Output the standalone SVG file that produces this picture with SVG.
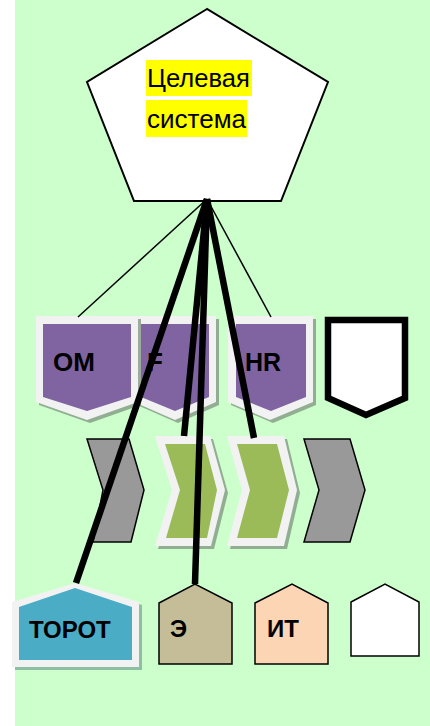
<svg xmlns="http://www.w3.org/2000/svg" width="430" height="726" viewBox="0 0 430 726">
<style>
.lbl{font-family:"Liberation Sans",Arial,sans-serif;font-weight:bold;font-size:24px;fill:#000}
.ttl{font-family:"Liberation Sans",Arial,sans-serif;font-size:25px;fill:#000}
.frame{fill:#f2f2f2}
.shadow{fill:#7f937f;opacity:0.75}
.purple{fill:#8064a2}
.green{fill:#9bbb59}
.gray{fill:#999999;stroke:#000;stroke-width:1.5}
.thin{stroke:#000;stroke-width:1.5;fill:none}
.thick{stroke:#000;stroke-width:6.5;fill:none}
</style>
<rect x="15" y="0" width="415" height="726" fill="#ccffcc"/>

<g id="target">
  <polygon points="207,9 87,82 134,201 281,201 328,82" fill="#fff" stroke="#000" stroke-width="2"/>
  <rect x="146" y="60" width="106" height="36" fill="#ffff00"/>
  <rect x="146" y="100" width="101" height="37" fill="#ffff00"/>
  <text class="ttl" x="147" y="87" textLength="103" lengthAdjust="spacingAndGlyphs">Целевая</text>
  <text class="ttl" x="147" y="128" textLength="99" lengthAdjust="spacingAndGlyphs">система</text>
</g>

<g id="F">
  <polygon class="shadow" points="137,319 219,319 219,405 178,423 137,405"/>
  <polygon class="frame" points="134,316 216,316 216,402 175,420 134,402"/>
  <polygon class="purple" points="141,324 209,324 209,397 175,411 141,397"/>
  <text class="lbl" x="147" y="371" style="font-size:26px">F</text>
</g>
<g id="OM">
  <polygon class="shadow" points="39,319 141,319 141,405 90,423 39,405"/>
  <polygon class="frame" points="36,316 138,316 138,402 87,420 36,402"/>
  <polygon class="purple" points="43,324 131,324 131,397 87,411 43,397"/>
  <text class="lbl" x="53" y="371" style="font-size:26px">OM</text>
</g>
<g id="HR">
  <polygon class="shadow" points="231,319 316,319 316,405 273,423 231,405"/>
  <polygon class="frame" points="228,316 313,316 313,402 270,420 228,402"/>
  <polygon class="purple" points="236,324 306,324 306,397 271,411 236,397"/>
  <text class="lbl" x="245" y="371" style="font-size:25px">HR</text>
</g>
<g id="shield4">
  <polygon points="328,320 405,320 405,398 366,415 328,398" fill="#fff" stroke="#000" stroke-width="6.5" stroke-linejoin="miter"/>
</g>

<g id="chev1">
  <polygon class="gray" points="87,439 129,439 144,490 131,542 93,542 103,490"/>
</g>
<g id="chev2">
  <polygon class="shadow" points="158,439 213,439 228,493 214,549 158,549 175,493"/>
  <polygon class="frame" points="155,436 210,436 225,490 211,546 155,546 172,490"/>
  <polygon class="green" points="165,444 205,444 217,490 207,538 166,538 180,490"/>
</g>
<g id="chev3">
  <polygon class="shadow" points="230,439 287,439 300,493 287,549 230,549 245,493"/>
  <polygon class="frame" points="227,436 284,436 297,490 284,546 227,546 242,490"/>
  <polygon class="green" points="237,444 277,444 289,490 277,538 237,538 250,490"/>
</g>
<g id="chev4">
  <polygon class="gray" points="304,439 350,439 365,490 350,542 304,542 319,490"/>
</g>

<g id="TOROT">
  <polygon fill="#8fbfa3" points="15,605 78,586 142,605 142,670 15,670"/>
  <polygon class="frame" points="12,602 75,583 139,602 139,667 12,667"/>
  <polygon fill="#4bacc6" points="19,607 75,588 132,607 132,660 19,660"/>
  <text class="lbl" x="29" y="638">ТОРОТ</text>
</g>
<g id="E">
  <polygon fill="#c4bd97" stroke="#000" stroke-width="1.5" points="159,603 195,584 232,603 232,664 159,664"/>
  <text class="lbl" x="170" y="637">Э</text>
</g>
<g id="IT">
  <polygon fill="#fcd5b4" stroke="#000" stroke-width="1.5" points="255,603 292,584 328,603 328,664 255,664"/>
  <text class="lbl" x="267" y="637">ИТ</text>
</g>
<g id="house4">
  <polygon fill="#fff" stroke="#000" stroke-width="1.5" points="351,602 385,584 419,602 419,656 351,656"/>
</g>

<g id="connectors">
  <line class="thin" x1="207" y1="199" x2="78" y2="317"/>
  <line class="thin" x1="207" y1="199" x2="271" y2="317"/>
  <line class="thick" x1="207" y1="199" x2="76" y2="583"/>
  <line class="thick" x1="207" y1="199" x2="184" y2="436"/>
  <line class="thick" x1="207" y1="199" x2="195" y2="584"/>
  <line class="thick" x1="207" y1="199" x2="254" y2="438"/>
</g>
</svg>
